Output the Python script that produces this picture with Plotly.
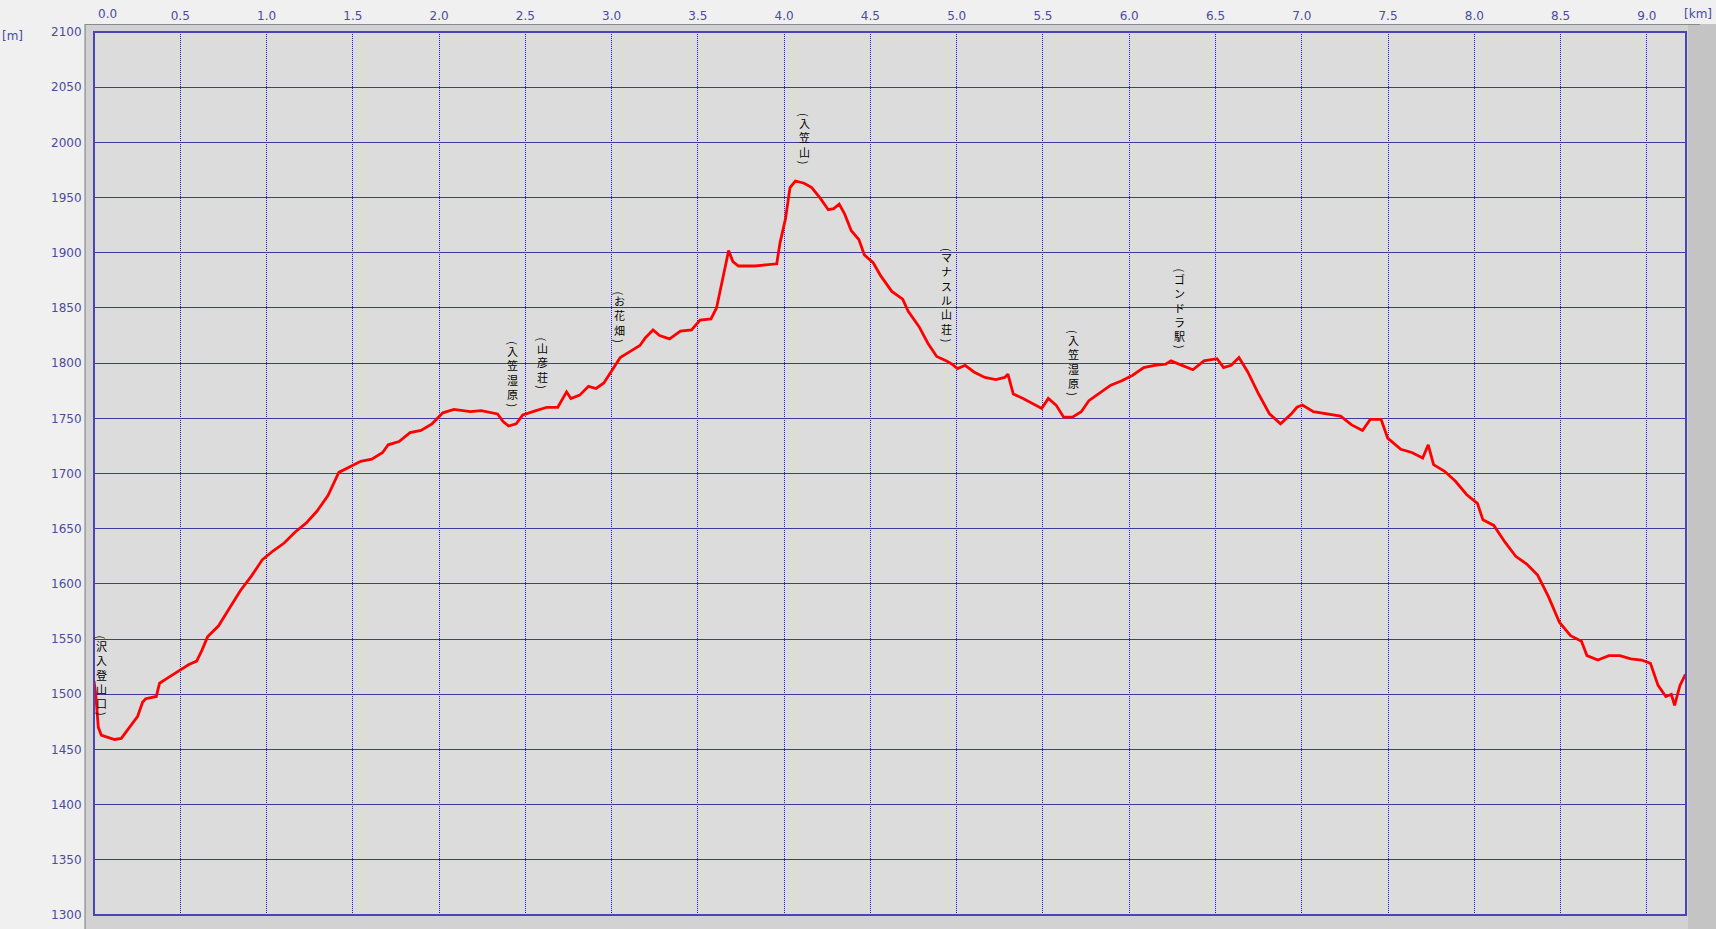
import plotly.graph_objects as go

# ---- data ----
dist_km = [0.000, 0.010, 0.025, 0.042, 0.080, 0.120, 0.158, 0.206, 0.253, 0.282, 0.300, 0.361, 0.380,
           0.430, 0.496, 0.550, 0.595, 0.626, 0.658, 0.722, 0.785, 0.849, 0.912, 0.976, 1.039, 1.102,
           1.166, 1.229, 1.293, 1.356, 1.419, 1.483, 1.546, 1.610, 1.673, 1.705, 1.768, 1.832, 1.895,
           1.959, 2.022, 2.086, 2.181, 2.244, 2.339, 2.371, 2.403, 2.447, 2.485, 2.562, 2.625, 2.688,
           2.720, 2.739, 2.764, 2.815, 2.866, 2.910, 2.955, 3.006, 3.050, 3.101, 3.164, 3.196, 3.240,
           3.278, 3.336, 3.399, 3.463, 3.513, 3.576, 3.608, 3.640, 3.665, 3.678, 3.703, 3.735, 3.830,
           3.894, 3.957, 3.976, 4.008, 4.034, 4.065, 4.116, 4.160, 4.211, 4.256, 4.287, 4.319, 4.351,
           4.389, 4.433, 4.465, 4.516, 4.560, 4.624, 4.687, 4.719, 4.782, 4.833, 4.884, 4.941, 4.973,
           5.005, 5.049, 5.100, 5.163, 5.227, 5.278, 5.297, 5.328, 5.385, 5.449, 5.493, 5.531, 5.576,
           5.620, 5.671, 5.722, 5.766, 5.830, 5.893, 5.957, 6.020, 6.084, 6.147, 6.211, 6.242, 6.306,
           6.369, 6.433, 6.509, 6.547, 6.591, 6.636, 6.687, 6.750, 6.813, 6.877, 6.940, 6.972, 7.004,
           7.067, 7.162, 7.225, 7.289, 7.352, 7.397, 7.460, 7.498, 7.574, 7.638, 7.701, 7.733, 7.764,
           7.828, 7.891, 7.955, 8.018, 8.050, 8.113, 8.177, 8.240, 8.304, 8.367, 8.431, 8.494, 8.558,
           8.621, 8.653, 8.716, 8.780, 8.843, 8.907, 8.970, 9.021, 9.065, 9.110, 9.142, 9.161, 9.192,
           9.224]
elev_m = [1512, 1500, 1470, 1463, 1461, 1459, 1460, 1470, 1480, 1493, 1496, 1498, 1510,
          1515, 1522, 1527, 1530, 1540, 1552, 1562, 1578, 1594, 1607, 1622, 1630, 1637,
          1647, 1655, 1666, 1680, 1701, 1706, 1711, 1713, 1719, 1726, 1729, 1737, 1739,
          1745, 1755, 1758, 1756, 1757, 1754, 1747, 1743, 1745, 1753, 1757, 1760, 1760,
          1769, 1774, 1768, 1771, 1779, 1777, 1782, 1795, 1805, 1810, 1816, 1823, 1830,
          1825, 1822, 1829, 1830, 1839, 1840, 1850, 1872, 1892, 1902, 1892, 1888, 1888,
          1889, 1890, 1909, 1931, 1959, 1965, 1963, 1959, 1949, 1939, 1940, 1944, 1935,
          1920, 1912, 1898, 1891, 1879, 1865, 1858, 1847, 1833, 1818, 1806, 1802, 1799,
          1795, 1798, 1792, 1787, 1785, 1787, 1790, 1772, 1768, 1763, 1759, 1768, 1762,
          1751, 1751, 1756, 1766, 1773, 1780, 1784, 1789, 1796, 1798, 1799, 1802, 1798,
          1794, 1802, 1804, 1796, 1798, 1805, 1792, 1772, 1754, 1745, 1754, 1760, 1762,
          1756, 1754, 1752, 1744, 1739, 1749, 1749, 1732, 1722, 1719, 1714, 1726, 1708,
          1702, 1693, 1681, 1673, 1658, 1653, 1638, 1625, 1618, 1608, 1588, 1565, 1553,
          1548, 1535, 1531, 1535, 1535, 1532, 1531, 1528, 1508, 1498, 1500, 1490, 1508,
          1518]

place_names = ["沢入登山口", "入笠湿原", "山彦荘", "お花畑", "入笠山", "マナスル山荘", "入笠湿原", "ゴンドラ駅"]
place_km = [0.043, 2.428, 2.599, 3.043, 4.119, 4.941, 5.675, 6.293]
place_label_base = [1479, 1759, 1775, 1817, 1979, 1818, 1769, 1812]

x_ticks = [0.0, 0.5, 1.0, 1.5, 2.0, 2.5, 3.0, 3.5, 4.0, 4.5, 5.0, 5.5, 6.0, 6.5, 7.0, 7.5, 8.0, 8.5, 9.0]
y_ticks = list(range(1300, 2101, 50))

# ---- figure ----
W, H = 1716, 929
ML, MR, MT, MB = 94, 30, 32, 14
PW, PH = W - ML - MR, H - MT - MB


def px_x(p):
    return (p - ML) / PW


def px_y(p):
    return (H - MB - p) / PH


fig = go.Figure()
fig.add_trace(go.Scatter(x=dist_km, y=elev_m, mode="lines",
                         line=dict(color="#ff0000", width=2.8), hoverinfo="skip",
                         showlegend=False))

tick_font = dict(family="DejaVu Sans", size=12, color="#4b4b9e")

shapes = [
    # outer gray frame
    dict(type="rect", xref="paper", yref="paper", x0=px_x(85), x1=px_x(W + 2), y0=px_y(H + 2), y1=px_y(24),
         fillcolor="#c4c4c4", line=dict(width=0), layer="below"),
    # lighter inner bevel (left and top)
    dict(type="rect", xref="paper", yref="paper", x0=px_x(86), x1=px_x(1688), y0=px_y(H + 2), y1=px_y(25),
         fillcolor="#d2d2d2", line=dict(width=0), layer="below"),
    dict(type="line", xref="paper", yref="paper", x0=px_x(85), x1=px_x(85), y0=px_y(H + 2), y1=px_y(24),
         line=dict(color="#808080", width=1), layer="below"),
    dict(type="line", xref="paper", yref="paper", x0=px_x(85), x1=px_x(1700), y0=px_y(24.5), y1=px_y(24.5),
         line=dict(color="#8a8a8a", width=1), layer="below"),
    # plot background
    dict(type="rect", xref="paper", yref="paper", x0=0, x1=1, y0=0, y1=1,
         fillcolor="#dcdcdc", line=dict(width=0), layer="below"),
    # plot border
    dict(type="rect", xref="paper", yref="paper", x0=0, x1=1, y0=0, y1=1,
         fillcolor="rgba(0,0,0,0)", line=dict(color="#4a44b4", width=2), layer="above"),
]

annotations = [
    dict(text="[m]", xref="paper", yref="paper", x=px_x(0), y=px_y(36), xanchor="left", yanchor="middle",
         showarrow=False, font=tick_font),
    dict(text="[km]", xref="paper", yref="paper", x=px_x(1698), y=px_y(14), xanchor="center", yanchor="middle",
         showarrow=False, font=tick_font),
    dict(text="0.0", xref="x", yref="paper", x=0, y=px_y(14), xanchor="center", yanchor="middle",
         xshift=13, showarrow=False, font=tick_font),
]

# vertical place labels: rotated parentheses + stacked characters
LABEL_SIZE = 11
label_font = dict(family="Noto Sans CJK JP", size=LABEL_SIZE, color="#000000")
paren_font = dict(family="Noto Sans CJK JP", size=11, color="#000000")
PAREN_H = 6
LINE_H = LABEL_SIZE * 1.3
for name, km, base in zip(place_names, place_km, place_label_base):
    n = len(name)
    annotations.append(dict(text=")", x=km, y=base, xref="x", yref="y", showarrow=False,
                            textangle=90, yanchor="middle", xanchor="center", yshift=PAREN_H / 2,
                            font=paren_font))
    annotations.append(dict(text="<br>".join(name), x=km, y=base, xref="x", yref="y", showarrow=False,
                            yanchor="bottom", xanchor="center", yshift=PAREN_H - 1,
                            font=label_font, borderpad=0))
    annotations.append(dict(text="(", x=km, y=base, xref="x", yref="y", showarrow=False,
                            textangle=90, yanchor="middle", xanchor="center",
                            yshift=PAREN_H + LINE_H * n + PAREN_H / 2 - 1, font=paren_font))

fig.update_layout(
    width=W, height=H, autosize=False,
    margin=dict(l=ML, r=MR, t=MT, b=MB, pad=0, autoexpand=False),
    paper_bgcolor="#f0f0f0",
    plot_bgcolor="rgba(0,0,0,0)",
    shapes=shapes,
    annotations=annotations,
    xaxis=dict(range=[0, 9.227], side="top", tickvals=x_ticks[1:],
               ticktext=[f"{v:.1f}" for v in x_ticks[1:]], automargin=False,
               showgrid=True, gridcolor="#1e1ea0", gridwidth=1, griddash="1px,1px",
               zeroline=False, showline=False, ticks="outside", ticklen=6,
               tickcolor="rgba(0,0,0,0)", tickfont=tick_font, fixedrange=True),
    yaxis=dict(range=[1300, 2100], tickvals=y_ticks, ticktext=[str(v) for v in y_ticks],
               automargin=False,
               showgrid=True, gridcolor="#3c3ca0", gridwidth=1,
               zeroline=False, showline=False, ticks="outside", ticklen=9,
               tickcolor="rgba(0,0,0,0)", tickfont=tick_font, fixedrange=True),
)

fig.write_html("out.html", config={"displayModeBar": False},
               post_script="document.body.style.margin='0';document.body.style.overflow='hidden';")
